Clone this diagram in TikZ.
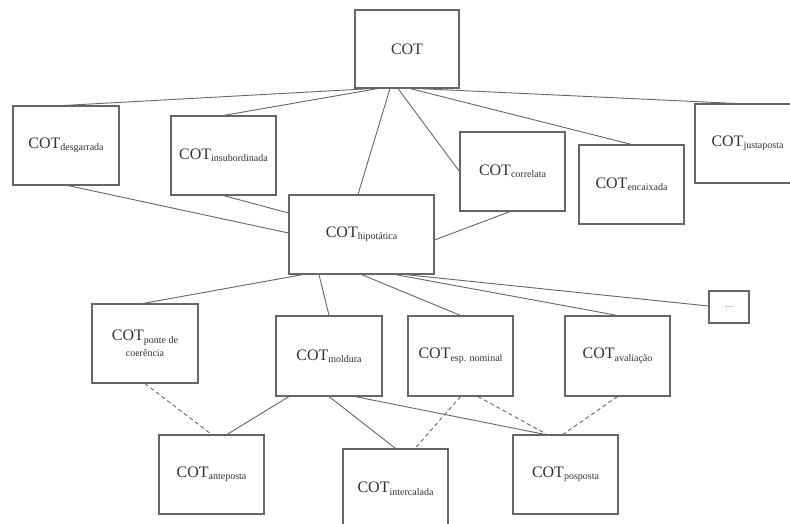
\documentclass[tikz,border=0pt]{standalone}
\usepackage{fontspec}
\setmainfont{Liberation Serif}
\definecolor{boxc}{HTML}{666666}
\definecolor{linec}{HTML}{666666}
\definecolor{txtc}{HTML}{333333}
\newcommand{\cotsub}[1]{COT\raisebox{-2.5pt}{\fontsize{10}{12}\selectfont #1}}
\begin{document}
\begin{tikzpicture}[x=1pt,y=-1pt,
  box/.style={draw=boxc, line width=1.1pt, fill=white, inner sep=0pt, text=txtc,
    font=\fontsize{16}{19}\selectfont, align=center},
  conn/.style={draw=linec, line width=0.9pt},
  dashconn/.style={conn, dash pattern=on 4pt off 3pt}]
\useasboundingbox (0,0) rectangle (790,524);
\fill[white] (0,0) rectangle (790,524);
\clip (0,0) rectangle (790,524);
% level 0
\node[box, minimum width=104pt, minimum height=78pt] (cot) at (407,49) {COT};
% level 1
\node[box, minimum width=106pt, minimum height=79pt] (desg) at (66,145.5) {\cotsub{desgarrada}};
\node[box, minimum width=105pt, minimum height=79pt] (insub) at (223.5,155.5) {\cotsub{insubordinada}};
\node[box, minimum width=105pt, minimum height=79pt] (correl) at (512.5,171.5) {\cotsub{correlata}};
\node[box, minimum width=105pt, minimum height=79pt] (encaix) at (631.5,184.5) {\cotsub{encaixada}};
\node[box, minimum width=105pt, minimum height=79pt] (justa) at (747.5,143.5) {\cotsub{justaposta}};
\node[box, minimum width=145pt, minimum height=79pt] (hipo) at (361.5,234.5) {\cotsub{hipotática}};
% level 2
\node[box, minimum width=106pt, minimum height=79pt] (ponte) at (145,343.5)
  {\cotsub{ponte de}\\[-3pt]{\fontsize{10}{12}\selectfont coerência}};
\node[box, minimum width=106pt, minimum height=80pt] (mold) at (329,356) {\cotsub{moldura}};
\node[box, minimum width=105pt, minimum height=80pt] (esp) at (460.5,356) {\cotsub{esp. nominal}};
\node[box, minimum width=105pt, minimum height=80pt] (aval) at (617.5,356) {\cotsub{avaliação}};
\node[box, minimum width=40pt, minimum height=32pt, font=\fontsize{10}{12}\selectfont, text=gray] (dots) at (729,307) {...};
% level 3
\node[box, minimum width=105pt, minimum height=79pt] (ante) at (211.5,474.5) {\cotsub{anteposta}};
\node[box, minimum width=105pt, minimum height=79pt] (inter) at (395.5,488.5) {\cotsub{intercalada}};
\node[box, minimum width=105pt, minimum height=79pt] (pos) at (565.5,474.5) {\cotsub{posposta}};
% connectors from COT
\draw[conn] ([xshift=-35pt]cot.south) -- ([xshift=-2pt]desg.north);
\draw[conn] ([xshift=-29pt]cot.south) -- (insub.north);
\draw[conn] ([xshift=-17pt]cot.south) -- ([xshift=-3.5pt]hipo.north);
\draw[conn] ([xshift=-9pt]cot.south) -- (correl.west);
\draw[conn] ([xshift=3pt]cot.south) -- (encaix.north);
\draw[conn] ([xshift=11pt]cot.south) -- ([xshift=-12pt]justa.north);
% into hipotatica
\draw[conn] ([xshift=2pt]desg.south) -- ([yshift=1.5pt]hipo.west);
\draw[conn] (insub.south) -- ([yshift=21.5pt]hipo.west);
\draw[conn] ([xshift=-2.5pt]correl.south) -- ([yshift=-5.5pt]hipo.east);
% from hipotatica
\draw[conn] ([xshift=-58.5pt]hipo.south) -- ([xshift=-2pt]ponte.north);
\draw[conn] ([xshift=-42.5pt]hipo.south) -- (mold.north);
\draw[conn] (hipo.south) -- (esp.north);
\draw[conn] ([xshift=33.5pt]hipo.south) -- (aval.north);
\draw[conn] ([xshift=43.5pt]hipo.south) -- ([yshift=1pt]dots.west);
% bottom level
\draw[dashconn] (ponte.south) -- (ante.north);
\draw[conn] ([xshift=-40pt]mold.south) -- ([xshift=15.5pt]ante.north);
\draw[conn] (mold.south) -- (inter.north);
\draw[conn] ([xshift=26pt]mold.south) -- ([xshift=-20.5pt]pos.north);
\draw[dashconn] (esp.south) -- ([xshift=19.5pt]inter.north);
\draw[dashconn] ([xshift=17.5pt]esp.south) -- ([xshift=-18.5pt]pos.north);
\draw[dashconn] (aval.south) -- ([xshift=-2.5pt]pos.north);
\end{tikzpicture}
\end{document}
